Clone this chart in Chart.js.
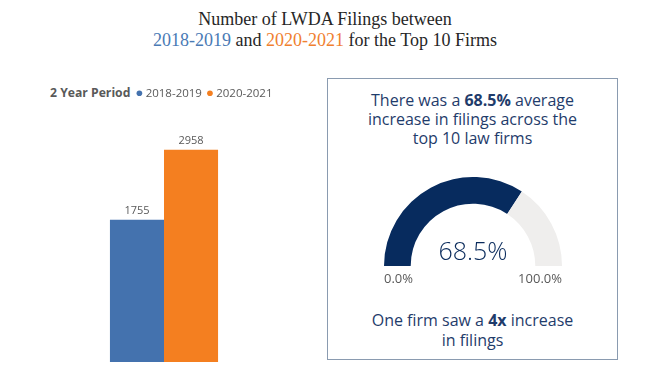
<!DOCTYPE html>
<html lang="en">

<head>
    <meta charset="UTF-8">
    <title>LWDA Filings</title>
    <script src="https://cdn.jsdelivr.net/npm/chart.js"></script>
    <style>
        body { margin: 0; width: 650px; height: 365px; overflow: hidden; background: #fff; position: relative; font-family: "Open Sans", sans-serif; }
        .title { position: absolute; left: 0; top: 9px; width: 650px; text-align: center; font-family: "Liberation Serif", serif; font-size: 18px; line-height: 21px; color: #262626; }
        .blue { color: #4a7ab5; }
        .orange { color: #f0802f; }
        .legend-title { position: absolute; left: 50px; top: 84px; font-family: "Open Sans", sans-serif; font-weight: bold; font-size: 12.2px; color: #595959; }
        #barWrap { position: absolute; left: 39px; top: 80px; width: 241px; height: 282px; }
        .box { position: absolute; left: 327px; top: 78px; width: 289px; height: 280px; border: 1px solid #8a9bb0; }
        .box p { margin: 0; text-align: center; color: #1f3c6b; font-family: "Open Sans", sans-serif; font-size: 16px; line-height: 19px; position: absolute; left: 0; width: 100%; }
        #gaugeWrap { position: absolute; left: 384px; top: 177px; width: 178px; height: 120px; }
    </style>
</head>

<body>
    <div class="title">Number of LWDA Filings between<br><span class="blue">2018-2019</span> and <span class="orange">2020-2021</span> for the Top 10 Firms</div>

    <div class="legend-title">2 Year Period</div>
    <div id="barWrap"><canvas id="barChart"></canvas></div>

    <div class="box">
        <p style="top: 12px;">There was a <b>68.5%</b> average<br>increase in filings across the<br>top 10 law firms</p>
        <p style="top: 231px; line-height: 20px;">One firm saw a <b>4x</b> increase<br>in filings</p>
    </div>
    <div id="gaugeWrap"><canvas id="gaugeChart"></canvas></div>

    <script>
        // data
        var periods = ['2018-2019', '2020-2021'];
        var filings = [1755, 2958];
        var periodColors = ['#4472ae', '#f47f20'];
        var avgIncrease = 68.5;
        var gaugeMin = 0;
        var gaugeMax = 100;
        var yMin = -685;
        var yMax = 3657;

        // value labels above the bars
        var barLabels = {
            id: 'barLabels',
            afterDatasetsDraw: function (chart) {
                var ctx = chart.ctx;
                ctx.save();
                ctx.font = '11px "Open Sans", sans-serif';
                ctx.fillStyle = '#595959';
                ctx.textAlign = 'center';
                ctx.textBaseline = 'bottom';
                chart.data.datasets.forEach(function (ds, i) {
                    var bar = chart.getDatasetMeta(i).data[0];
                    ctx.fillText(ds.data[0], bar.x, bar.y - 3);
                });
                ctx.restore();
            }
        };

        new Chart(document.getElementById('barChart'), {
            type: 'bar',
            data: {
                labels: ['Top 10 Firms'],
                datasets: periods.map(function (p, i) {
                    return {
                        label: p,
                        data: [filings[i]],
                        backgroundColor: periodColors[i],
                        base: yMin,
                        barPercentage: 1,
                        categoryPercentage: 0.466
                    };
                })
            },
            options: {
                responsive: true,
                maintainAspectRatio: false,
                animation: false,
                layout: { padding: { left: 9 } },
                scales: {
                    x: { display: false },
                    y: { display: false, min: yMin, max: yMax }
                },
                plugins: {
                    tooltip: { enabled: false },
                    legend: {
                        position: 'top',
                        align: 'end',
                        labels: {
                            usePointStyle: true,
                            pointStyle: 'circle',
                            boxWidth: 1,
                            boxHeight: 4,
                            padding: 7.5,
                            color: '#595959',
                            font: { family: 'Open Sans', size: 11.5 }
                        }
                    }
                }
            },
            plugins: [barLabels]
        });

        // gauge centre text and end labels
        var gaugeText = {
            id: 'gaugeText',
            afterDraw: function (chart) {
                var ctx = chart.ctx;
                var arc = chart.getDatasetMeta(0).data[0];
                var cx = arc.x, cy = arc.y, r = arc.outerRadius;
                ctx.save();
                ctx.textAlign = 'center';
                ctx.textBaseline = 'alphabetic';
                ctx.fillStyle = '#0a2b5c';
                ctx.font = '300 25px "Open Sans", sans-serif';
                ctx.fillText(avgIncrease.toFixed(1) + '%', cx, cy - 6);
                ctx.fillStyle = '#595959';
                ctx.font = '13px "Open Sans", sans-serif';
                ctx.textAlign = 'left';
                ctx.fillText(gaugeMin.toFixed(1) + '%', cx - r, cy + 17);
                ctx.textAlign = 'right';
                ctx.fillText(gaugeMax.toFixed(1) + '%', cx + r, cy + 17);
                ctx.restore();
            }
        };

        new Chart(document.getElementById('gaugeChart'), {
            type: 'doughnut',
            data: {
                labels: ['Increase', 'Remaining'],
                datasets: [{
                    data: [avgIncrease, gaugeMax - avgIncrease],
                    backgroundColor: ['#072b5e', '#efeeed'],
                    borderWidth: 0
                }]
            },
            options: {
                responsive: true,
                maintainAspectRatio: false,
                animation: false,
                rotation: -90,
                circumference: 180,
                cutout: '70%',
                layout: { padding: { bottom: 31 } },
                plugins: {
                    legend: { display: false },
                    tooltip: { enabled: false }
                }
            },
            plugins: [gaugeText]
        });
    </script>
</body>

</html>
